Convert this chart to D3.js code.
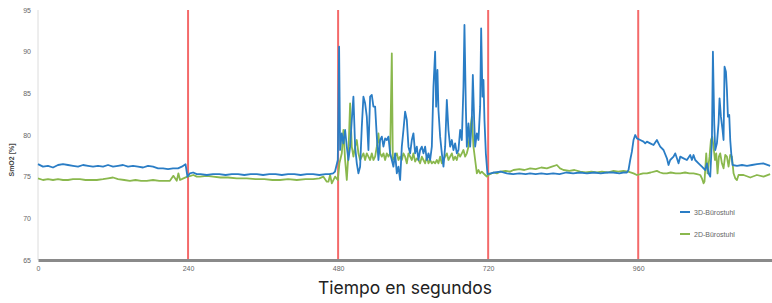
<!DOCTYPE html>
<html>
<head>
<meta charset="utf-8">
<script src="https://cdn.jsdelivr.net/npm/d3@7"></script>
<style>
  body { margin: 0; background: #fff; }
  svg { display: block; }
</style>
</head>
<body>
<svg id="chart"></svg>
<script>
// SmO2 readings, [seconds, percent]
const series3D = [
  [0,76.5],[8,76.2],[16,76.3],[24,76.1],[32,76.4],[40,76.5],[48,76.4],[56,76.3],[64,76.2],[72,76.4],
  [80,76.3],[88,76.2],[96,76.3],[104,76.2],[112,76.4],[120,76.2],[128,76.3],[136,76.4],[144,76.2],[152,76.3],
  [160,76.2],[168,76.1],[176,76.3],[184,76.2],[192,76.0],[200,76.0],[208,75.9],[216,76.0],[224,76.0],[230,76.2],
  [236,76.5],[239,75.0],[243,75.4],[248,75.5],[254,75.3],[260,75.3],[270,75.2],[280,75.3],[290,75.3],[300,75.2],
  [310,75.3],[320,75.3],[330,75.2],[340,75.3],[350,75.3],[360,75.2],[370,75.3],[380,75.3],[390,75.2],[400,75.3],
  [410,75.3],[420,75.2],[430,75.3],[440,75.3],[450,75.2],[460,75.3],[466,75.3],[472,75.4],[475,75.6],[479.5,77.0],
  [481.6,90.6],[483.2,78.2],[485.9,80.2],[488.5,79.0],[491.2,80.6],[493.9,78.6],[496.5,77.0],[499.2,78.6],[501.9,81.8],[504.5,84.6],
  [507.2,78.6],[509.9,76.6],[512.5,75.4],[515.2,76.2],[517.9,81.0],[520.5,84.6],[523.2,83.8],[525.9,82.2],[528.5,78.2],[531.2,84.6],
  [533.9,84.8],[536.5,83.4],[539.2,83.4],[541.9,79.8],[544.5,77.0],[547.2,79.4],[549.9,79.8],[552.5,78.6],[555.2,79.6],[557.9,79.4],
  [560.5,79.8],[563.2,77.8],[565.9,77.0],[568.5,76.2],[571.2,77.8],[573.9,75.4],[576.5,76.2],[579.2,74.6],[581.9,78.6],[584.5,80.6],
  [587.2,82.8],[589.9,81.8],[592.5,78.6],[595.2,77.8],[597.9,79.4],[600.5,80.2],[603.2,77.8],[605.9,78.6],[608.5,77.0],[611.2,78.2],
  [613.9,78.6],[616.5,77.8],[619.2,78.6],[621.9,77.0],[624.5,77.8],[627.2,77.0],[629.9,78.6],[632.5,85.8],[635.2,90.0],[636.8,83.4],
  [638.9,87.8],[640.5,83.0],[643.2,79.8],[645.9,77.8],[648.5,76.2],[651.2,78.6],[653.9,84.2],[656.5,80.6],[659.2,78.6],[661.9,79.4],
  [664.5,78.2],[667.2,79.0],[669.9,77.8],[672.5,78.2],[675.2,80.6],[677.9,79.4],[680.5,85.8],[682.1,93.2],[684.3,83.4],[685.9,78.6],
  [688.5,81.4],[691.2,78.6],[693.9,81.8],[695.5,87.2],[697.6,81.8],[699.2,78.6],[701.9,80.2],[704.5,79.4],[707.2,83.4],[708.8,92.8],
  [710.9,84.6],[712.5,86.6],[714.1,81.8],[716.3,77.8],[718.9,75.3],[724,75.4],[730,75.5],[740,75.6],[750,75.4],[760,75.3],
  [770,75.4],[780,75.3],[787,75.4],[796,75.3],[805,75.4],[814,75.3],[824,75.4],[834,75.3],[845,75.5],[856,75.4],
  [867,75.5],[878,75.4],[890,75.5],[900,75.4],[910,75.5],[920,75.5],[930,75.4],[936,75.5],[941.9,75.5],[944.5,75.8],
  [947.2,77.0],[949.9,78.0],[952.5,79.4],[955.2,80.0],[957.9,79.6],[963.2,79.4],[968.5,79.2],[971.2,79.0],[973.9,79.2],[979.2,79.0],
  [984.5,78.8],[989.9,79.4],[992.5,79.0],[995.2,78.6],[1000.5,78.2],[1005.9,77.2],[1008.5,76.4],[1011.2,77.0],[1016.5,77.4],[1019.2,77.8],
  [1021.9,77.2],[1024.5,76.6],[1027.2,77.4],[1032.5,77.2],[1037.9,77.0],[1043.2,77.6],[1045.9,77.0],[1048.5,77.6],[1051.2,77.0],[1056.5,76.6],
  [1061.9,76.2],[1067.2,75.8],[1069.9,76.6],[1072.5,75.4],[1075.2,75.0],[1077.9,79.4],[1079.5,90.0],[1081.6,81.4],[1083.2,78.2],[1085.9,79.0],
  [1088.5,81.4],[1090.1,84.4],[1092.3,82.2],[1094.9,80.6],[1096.5,79.4],[1098.1,88.2],[1100.3,87.6],[1101.9,85.4],[1103.5,82.2],[1105.6,82.4],
  [1107.2,79.4],[1108.8,77.8],[1110.9,76.4],[1118,76.3],[1126,76.4],[1134,76.3],[1142,76.4],[1150,76.5],[1160,76.6],[1171,76.3]
];

const series2D = [
  [0,74.8],[8,74.6],[16,74.7],[24,74.6],[32,74.7],[40,74.6],[48,74.6],[56,74.7],[67,74.7],[76,74.6],
  [85,74.6],[94,74.6],[104,74.7],[112,74.8],[120,74.9],[128,74.7],[138,74.6],[147,74.5],[156,74.6],[165,74.5],
  [174,74.5],[184,74.6],[194,74.5],[204,74.5],[211,74.5],[216.5,75.1],[221.9,74.5],[224.5,75.4],[227.2,74.6],[232.5,74.8],
  [239,75.0],[244,75.1],[248.5,75.2],[254,75.0],[259,75.0],[270,75.1],[280,75.0],[292,74.9],[304,74.9],[318,74.8],
  [334,74.8],[348,74.7],[362,74.7],[375,74.6],[387,74.6],[400,74.7],[414,74.6],[428,74.7],[440,74.7],[450,74.8],
  [456.5,75.0],[461.9,74.4],[464.5,74.4],[467.2,75.2],[469.9,74.2],[475.2,75.0],[479.5,74.6],[482.1,76.6],[485.9,77.8],[488.5,80.6],
  [491.2,77.0],[493.9,74.6],[496.5,77.8],[499.2,83.8],[501.9,78.6],[504.5,77.4],[507.2,78.6],[509.9,79.4],[512.5,77.8],[515.2,77.0],
  [517.9,77.4],[520.5,77.8],[523.2,77.0],[525.9,77.8],[528.5,77.4],[531.2,77.0],[533.9,77.8],[536.5,77.0],[539.2,77.4],[541.9,78.6],
  [544.5,80.2],[547.2,77.8],[549.9,77.4],[552.5,77.8],[555.2,77.0],[557.9,77.8],[560.5,77.4],[563.2,77.8],[565.9,89.8],[567.5,77.0],
  [571.2,77.4],[573.9,77.8],[576.5,77.0],[579.2,77.4],[581.9,77.0],[584.5,77.8],[587.2,77.4],[589.9,76.6],[592.5,77.8],[595.2,77.4],
  [597.9,77.0],[600.5,77.8],[603.2,76.8],[605.9,77.2],[608.5,77.0],[611.2,76.6],[613.9,77.4],[616.5,77.0],[619.2,76.6],[621.9,77.4],
  [624.5,76.6],[627.2,77.0],[629.9,76.6],[632.5,76.8],[635.2,76.6],[637.9,77.0],[640.5,76.6],[643.2,77.4],[645.9,76.6],[648.5,77.0],
  [651.2,77.4],[653.9,77.8],[656.5,77.0],[659.2,77.4],[661.9,77.8],[664.5,77.0],[667.2,77.4],[669.9,77.0],[672.5,77.8],[675.2,77.4],
  [677.9,77.8],[680.5,78.2],[683.2,77.4],[685.9,77.8],[688.5,78.6],[691.2,80.6],[693.9,82.2],[696.5,78.6],[699.2,77.0],[701.9,75.4],
  [704.5,75.8],[707.2,75.4],[709.9,75.6],[712.5,75.4],[715.2,75.2],[717.9,75.0],[720.5,75.2],[728.5,75.5],[734,75.4],[739.2,75.6],
  [748,75.7],[755,75.6],[760.5,75.8],[770,75.9],[778,75.8],[787.2,76.0],[796,75.9],[805,76.1],[813.9,76.0],[822,76.2],
  [829.9,76.4],[835,76.0],[840.5,75.8],[850,75.7],[858,75.8],[867.2,75.6],[876,75.5],[885,75.6],[893.9,75.5],[902,75.6],
  [911,75.5],[920.5,75.7],[928,75.6],[936.5,75.7],[944,75.6],[952.5,75.4],[957.9,75.2],[963.2,75.3],[968,75.4],[973.9,75.4],
  [980,75.5],[989.9,75.7],[995,75.5],[1000,75.4],[1005.9,75.4],[1012,75.5],[1020,75.4],[1027.2,75.4],[1035,75.5],[1042,75.4],
  [1048.5,75.4],[1054,75.3],[1059.2,75.2],[1061.9,74.8],[1064.5,74.2],[1066,74.4],[1068.8,77.8],[1070.9,75.4],[1074.1,77.4],[1076.3,79.4],
  [1078.4,79.8],[1080.5,78.6],[1082.7,77.0],[1084.8,77.8],[1086.9,75.4],[1089.1,77.4],[1091.2,77.8],[1093.9,76.6],[1096.5,76.0],[1099.2,77.6],
  [1101.9,77.4],[1104.5,76.2],[1107.2,77.6],[1109.9,77.4],[1112.5,75.4],[1115.2,74.8],[1117.9,74.6],[1120.5,75.2],[1128.5,75.2],[1139.2,74.9],
  [1149.9,75.2],[1160.5,75.0],[1171,75.3]
];

const xTicks = [0, 240, 480, 720, 960];
const yTicks = [65, 70, 75, 80, 85, 90, 95];
const markers = [240, 480, 720, 960];
const legendItems = [
  { name: "3D-Bürostuhl", color: "#2a7dc5", data: series3D },
  { name: "2D-Bürostuhl", color: "#8ab84d", data: series2D }
];

const width = 772, height = 303;
const svg = d3.select("#chart").attr("width", width).attr("height", height);

const x = d3.scaleLinear().domain([0, 1174]).range([38, 772]);
const y = d3.scaleLinear().domain([65, 95]).range([260, 10]);

// y axis: light rule plus tiny labels
svg.append("line")
    .attr("x1", x(0)).attr("x2", x(0))
    .attr("y1", y(95)).attr("y2", y(65))
    .attr("stroke", "#dcdcdc").attr("stroke-width", 1);
svg.selectAll(".ytick")
    .data(yTicks)
    .enter().append("text")
    .attr("x", 31)
    .attr("y", d => y(d) + 2.5)
    .attr("text-anchor", "end")
    .attr("font-family", "Liberation Sans, Arial, sans-serif")
    .attr("font-size", 7)
    .attr("fill", "#666")
    .text(d => d);

// x axis
const xAxis = svg.append("g")
    .attr("transform", "translate(0," + y(65) + ")")
    .call(d3.axisBottom(x).tickValues(xTicks).tickSize(0).tickPadding(6));
xAxis.select(".domain").attr("stroke", "#8a8a8a").attr("stroke-width", 3);
xAxis.selectAll("text")
    .attr("font-family", "Liberation Sans, Arial, sans-serif")
    .attr("font-size", 7)
    .attr("fill", "#666");

// red marker lines
svg.selectAll(".marker")
    .data(markers)
    .enter().append("line")
    .attr("x1", d => x(d)).attr("x2", d => x(d))
    .attr("y1", y(95)).attr("y2", y(65) - 1)
    .attr("stroke", "#f46a6a")
    .attr("stroke-width", 2);

// series lines
const line = d3.line()
    .x(d => x(d[0]))
    .y(d => y(d[1]));

legendItems.slice().reverse().forEach(s => {
  svg.append("path")
      .datum(s.data)
      .attr("d", line)
      .attr("fill", "none")
      .attr("stroke", s.color)
      .attr("stroke-width", 1.8)
      .attr("stroke-linejoin", "round");
});

// legend
const legend = svg.selectAll(".legend")
    .data(legendItems)
    .enter().append("g")
    .attr("transform", (d, i) => "translate(680," + (212 + i * 22) + ")");
legend.append("line")
    .attr("x1", 0).attr("x2", 10)
    .attr("stroke", d => d.color)
    .attr("stroke-width", 2);
legend.append("text")
    .attr("x", 14)
    .attr("y", 2.5)
    .attr("font-family", "Liberation Sans, Arial, sans-serif")
    .attr("font-size", 7)
    .attr("fill", "#666")
    .text(d => d.name);

// axis titles
svg.append("text")
    .attr("transform", "translate(14," + y(77) + ") rotate(-90)")
    .attr("text-anchor", "middle")
    .attr("font-family", "Liberation Sans, Arial, sans-serif")
    .attr("font-size", 7)
    .attr("font-weight", "bold")
    .attr("fill", "#444")
    .text("SmO2 [%]");

svg.append("text")
    .attr("x", 405)
    .attr("y", 294)
    .attr("text-anchor", "middle")
    .attr("font-family", "Inter, Roboto, sans-serif")
    .attr("font-size", 17.5)
    .attr("fill", "#222")
    .text("Tiempo en segundos");
</script>
</body>
</html>
